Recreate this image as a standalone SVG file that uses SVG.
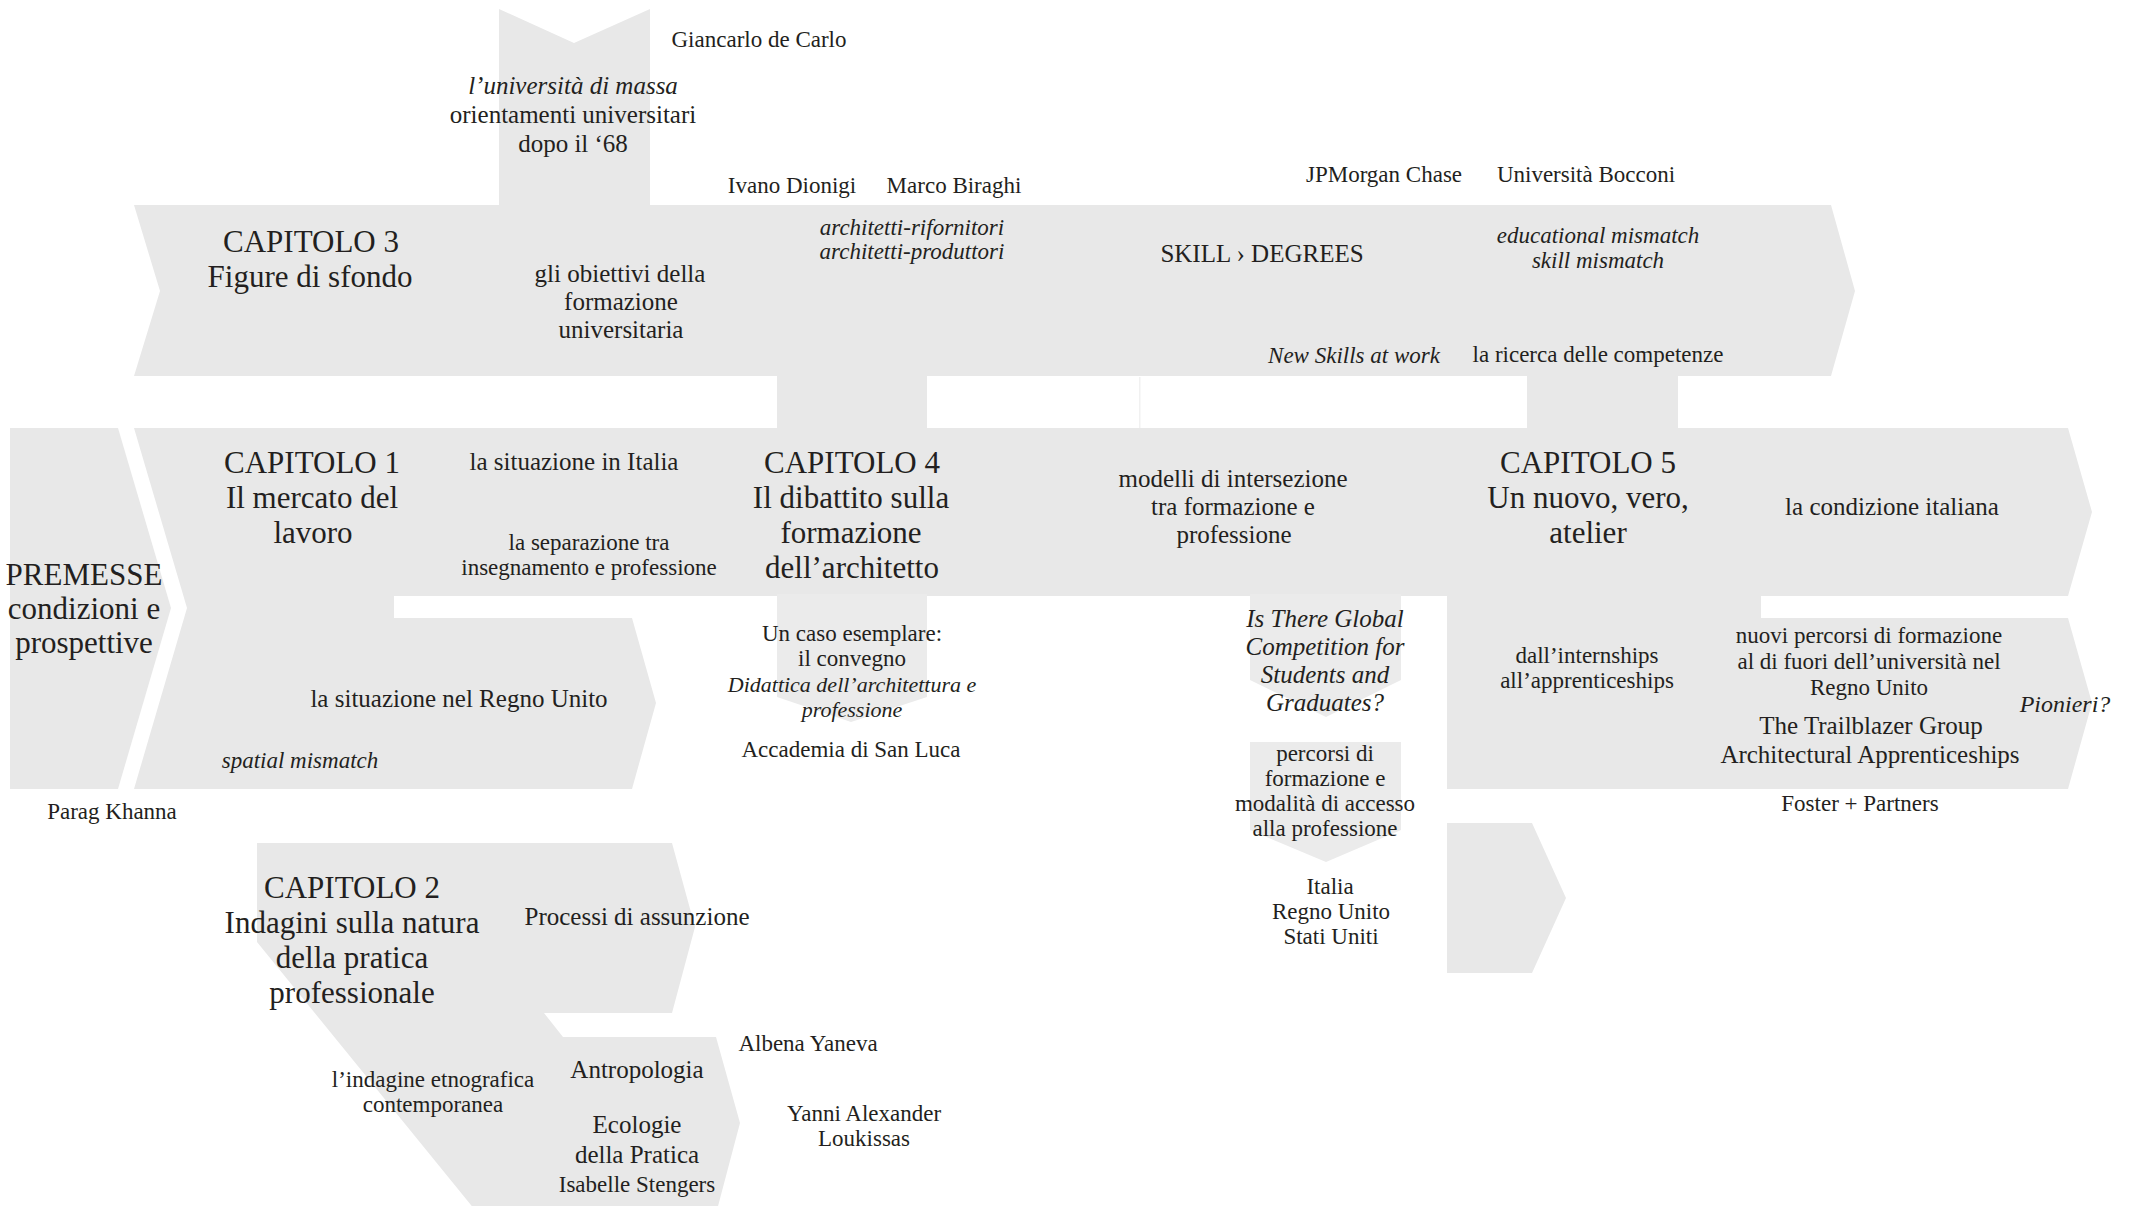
<svg xmlns="http://www.w3.org/2000/svg" width="2129" height="1206" viewBox="0 0 2129 1206">
<style>
.s{fill:#e8e8e8}
.sl{fill:#ebebeb}
text{font-family:"Liberation Serif","Times New Roman",serif;fill:#231f20;text-anchor:middle}
.t{font-size:31px}
.m{font-size:25px}
.n{font-size:23px}
.i{font-style:italic}
</style>
<rect width="2129" height="1206" fill="#ffffff"/>
<g id="connectors"></g>

<g id="upper-band">
<polygon class="s" points="499,9 574,43 650,9 650,207 499,207"/>
<text class="n" x="759" y="47">Giancarlo de Carlo</text>
<text class="m i" x="573" y="94">l’università di massa</text>
<text class="m" x="573" y="123">orientamenti universitari</text>
<text class="m" x="573" y="152">dopo il ‘68</text>
</g>

<g id="capitolo3">
<polygon class="s" points="134,205 1831,205 1855,291 1831,376 134,376 160,291"/>
<text class="t" x="311" y="252">CAPITOLO 3</text>
<text class="t" x="310" y="287">Figure di sfondo</text>
<text class="m" x="620" y="282">gli obiettivi della</text>
<text class="m" x="621" y="310">formazione</text>
<text class="m" x="621" y="338">universitaria</text>
<text class="n" x="792" y="193">Ivano Dionigi</text>
<text class="n" x="954" y="193">Marco Biraghi</text>
<text class="n i" x="912" y="235">architetti-rifornitori</text>
<text class="n i" x="912" y="259">architetti-produttori</text>
<text class="n" x="1384" y="182">JPMorgan Chase</text>
<text class="n" x="1586" y="182">Università Bocconi</text>
<text class="m" x="1262" y="262">SKILL › DEGREES</text>
<text class="n i" x="1598" y="243">educational mismatch</text>
<text class="n i" x="1598" y="268">skill mismatch</text>
<text class="n i" x="1354" y="363">New Skills at work</text>
<text class="n" x="1598" y="362">la ricerca delle competenze</text>
</g>

<g id="link-cap3-cap4"><rect class="s" x="777" y="374" width="150" height="56"/></g>
<g id="link-cap3-cap5"><rect class="s" x="1527" y="374" width="151" height="56"/></g>
<g id="faint-line"><rect x="1139" y="377" width="1.5" height="51" fill="#f1f1f1"/></g>

<g id="premesse">
<polygon class="s" points="10,428 118,428 171,608 118,789 10,789"/>
<text class="t" x="84" y="585">PREMESSE</text>
<text class="t" x="84" y="619">condizioni e</text>
<text class="t" x="84" y="653">prospettive</text>
<text class="n" x="112" y="819">Parag Khanna</text>
</g>

<g id="capitolo1">
<polygon class="s" points="134,428 2068,428 2092,512 2068,596 394,596 394,618 632,618 656,703 632,789 134,789 187,608"/>
<text class="t" x="312" y="473">CAPITOLO 1</text>
<text class="t" x="312" y="508">Il mercato del</text>
<text class="t" x="313" y="543">lavoro</text>
<text class="m" x="574" y="470">la situazione in Italia</text>
<text class="n" x="589" y="550">la separazione tra</text>
<text class="n" x="589" y="575">insegnamento e professione</text>
<text class="m" x="459" y="707">la situazione nel Regno Unito</text>
<text class="n i" x="300" y="768">spatial mismatch</text>
</g>

<g id="capitolo4">
<polygon class="sl" points="777,594 927,594 927,697 851,722 777,697"/>
<text class="t" x="852" y="473">CAPITOLO 4</text>
<text class="t" x="851" y="508">Il dibattito sulla</text>
<text class="t" x="851" y="543">formazione</text>
<text class="t" x="852" y="578">dell’architetto</text>
<text class="n" x="852" y="641">Un caso esemplare:</text>
<text class="n" x="852" y="666">il convegno</text>
<text class="n i" x="852" y="692" style="font-size:22px">Didattica dell’architettura e</text>
<text class="n i" x="852" y="717" style="font-size:22px">professione</text>
<text class="n" x="851" y="757">Accademia di San Luca</text>
</g>

<g id="modelli">
<text class="m" x="1233" y="487">modelli di intersezione</text>
<text class="m" x="1233" y="515">tra formazione e</text>
<text class="m" x="1234" y="543">professione</text>
</g>

<g id="global-competition">
<polygon class="sl" points="1250,594 1401,594 1401,680 1326,717 1250,680"/>
<text class="m i" x="1325" y="627">Is There Global</text>
<text class="m i" x="1325" y="655">Competition for</text>
<text class="m i" x="1325" y="683">Students and</text>
<text class="m i" x="1325" y="711">Graduates?</text>
</g>

<g id="percorsi">
<polygon class="sl" points="1250,742 1401,742 1401,830 1326,862 1250,830"/>
<text class="n" x="1325" y="761">percorsi di</text>
<text class="n" x="1325" y="786">formazione e</text>
<text class="n" x="1325" y="811">modalità di accesso</text>
<text class="n" x="1325" y="836">alla professione</text>
<text class="n" x="1330" y="894">Italia</text>
<text class="n" x="1331" y="919">Regno Unito</text>
<text class="n" x="1331" y="944">Stati Uniti</text>
</g>

<g id="capitolo5">
<polygon class="s" points="1447,594 1761,594 1761,618 2068,618 2092,703 2068,789 1447,789"/>
<text class="t" x="1588" y="473">CAPITOLO 5</text>
<text class="t" x="1588" y="508">Un nuovo, vero,</text>
<text class="t" x="1588" y="543">atelier</text>
<text class="m" x="1892" y="515">la condizione italiana</text>
<text class="n" x="1587" y="663">dall’internships</text>
<text class="n" x="1587" y="688">all’apprenticeships</text>
<text class="n" x="1869" y="643">nuovi percorsi di formazione</text>
<text class="n" x="1869" y="669">al di fuori dell’università nel</text>
<text class="n" x="1869" y="695">Regno Unito</text>
<text class="m" x="1871" y="734">The Trailblazer Group</text>
<text class="m" x="1870" y="763">Architectural Apprenticeships</text>
<text class="n i" x="2065" y="712" style="font-size:24px">Pionieri?</text>
<text class="n" x="1860" y="811">Foster + Partners</text>
</g>

<g id="small-arrow">
<polygon class="s" points="1447,823 1532,823 1566,898 1532,973 1447,973"/>
</g>

<g id="capitolo2">
<polygon class="s" points="257,843 672,843 695,927 672,1013 544,1013 563,1037 716,1037 740,1123 717,1210 475,1210 257,942"/>
<text class="t" x="352" y="898">CAPITOLO 2</text>
<text class="t" x="352" y="933">Indagini sulla natura</text>
<text class="t" x="352" y="968">della pratica</text>
<text class="t" x="352" y="1003">professionale</text>
<text class="m" x="637" y="925">Processi di assunzione</text>
<text class="n" x="808" y="1051">Albena Yaneva</text>
<text class="m" x="637" y="1078">Antropologia</text>
<text class="n" x="433" y="1087">l’indagine etnografica</text>
<text class="n" x="433" y="1112">contemporanea</text>
<text class="m" x="637" y="1133">Ecologie</text>
<text class="m" x="637" y="1163">della Pratica</text>
<text class="n" x="637" y="1192">Isabelle Stengers</text>
<text class="n" x="864" y="1121">Yanni Alexander</text>
<text class="n" x="864" y="1146">Loukissas</text>
</g>
</svg>
